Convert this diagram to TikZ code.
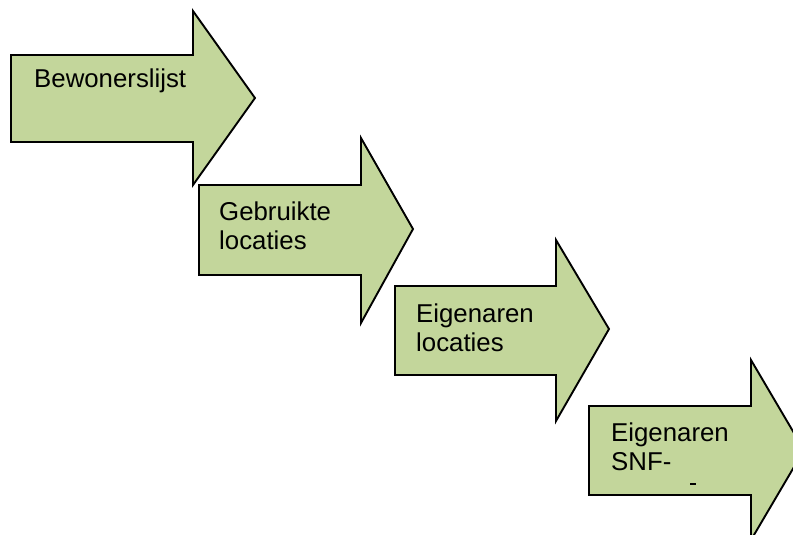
\documentclass[tikz,border=0pt]{standalone}
\usepackage{fontspec}
\setmainfont{Liberation Sans}
\definecolor{arrowfill}{HTML}{C3D69B}
\begin{document}
\begin{tikzpicture}[x=1pt,y=-1pt,
  bigarrow/.style={draw=black,line width=1.9pt,fill=arrowfill,line join=miter},
  label/.style={anchor=base west,inner sep=0pt,align=left,
    font=\fontsize{25.8}{29}\selectfont}]
\useasboundingbox (0,0) rectangle (793,535);
\clip (0,0) rectangle (793,535);
% arrow 1
\draw[bigarrow] (11,55) -- (193,55) -- (193,11) -- (255,98) -- (193,185) -- (193,142) -- (11,142) -- cycle;
\node[label] (t1) at (34,88) {Bewonerslijst};
% arrow 2
\draw[bigarrow] (199,185) -- (361,185) -- (361,138) -- (413,229) -- (361,323) -- (361,275) -- (199,275) -- cycle;
\node[label] (t2) at (219,249.5) {Gebruikte\\locaties};
% arrow 3
\draw[bigarrow] (395,286) -- (556,286) -- (556,240) -- (609,329) -- (556,421) -- (556,375) -- (395,375) -- cycle;
\node[label] (t3) at (416,351) {Eigenaren\\locaties};
% arrow 4
\draw[bigarrow] (589,406) -- (751,406) -- (751,360) -- (804,450) -- (751,540) -- (751,495) -- (589,495) -- cycle;
\node[label] (t4) at (611,470.5) {Eigenaren\\SNF-};
\fill[black] (690,483.3) rectangle (696,485);
\end{tikzpicture}
\end{document}
